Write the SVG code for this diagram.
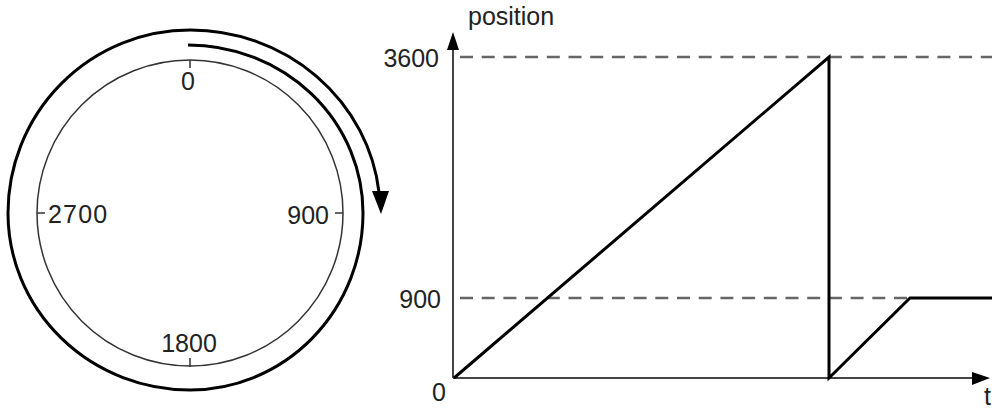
<svg xmlns="http://www.w3.org/2000/svg" width="995" height="409" viewBox="0 0 995 409">
<style>
text{font-family:"Liberation Sans",Arial,sans-serif;font-size:25px;fill:#222}
.thick{fill:none;stroke:#000;stroke-width:3}
.thin{fill:none;stroke:#333;stroke-width:1.5}
.axis{fill:none;stroke:#444;stroke-width:2}
.dash{fill:none;stroke:#666;stroke-width:2.5;stroke-dasharray:13 8.7}
</style>
<g id="dial">
<circle cx="190" cy="213" r="153" class="thin"/>
<path d="M190,60V68M190,358V367M37,213H45M335,213H343" class="thin"/>
<text x="188" y="90" text-anchor="middle">0</text>
<text x="48" y="223" letter-spacing="1.2">2700</text>
<text x="329" y="224" text-anchor="end">900</text>
<text x="189" y="352" text-anchor="middle">1800</text>
</g>
<g id="rotation-arrow">
<path d="M188,45 A175,168 0 0 1 363,213 A173,177 0 0 1 190,390 A182,177 0 0 1 8,213 A182,183 0 0 1 190,30 A190,183 0 0 1 379,192" class="thick"/>
<polygon points="372,191 389,191 381,214" fill="#000"/>
</g>
<g id="axes">
<path d="M453,378V48M453,378H975" class="axis"/>
<polygon points="447,50 459,50 453,32" fill="#000"/>
<polygon points="972,372 972,385 990,378" fill="#000"/>
<text x="468" y="25" font-size="22">position</text>
<text x="439" y="67" text-anchor="end">3600</text>
<text x="441" y="308" text-anchor="end">900</text>
<text x="439" y="401" text-anchor="middle">0</text>
<text x="984" y="405">t</text>
</g>
<g id="guides">
<path d="M460,57H992" class="dash"/>
<path d="M460,298H910" class="dash"/>
</g>
<g id="position-curve">
<path d="M454,378L829,57V378L910,298H992" class="thick"/>
</g>
</svg>
